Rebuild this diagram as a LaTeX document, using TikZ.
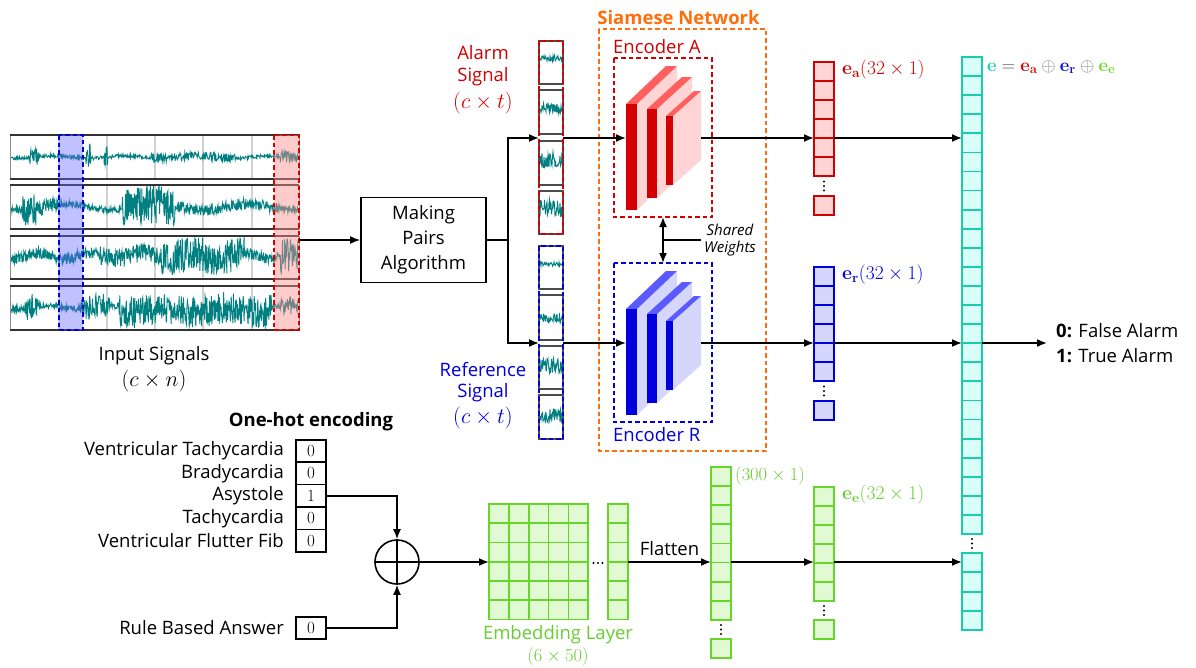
\RequirePackage{fix-cm}
\documentclass[tikz,border=0pt]{standalone}
\usepackage[no-math]{fontspec}
\setmainfont{Open Sans}
\usetikzlibrary{arrows.meta,calc}
\definecolor{rd}{RGB}{210,0,0}
\definecolor{rdl}{RGB}{255,95,95}
\definecolor{rdf}{RGB}{255,212,212}
\definecolor{bl}{RGB}{0,0,220}
\definecolor{bll}{RGB}{90,90,255}
\definecolor{blf}{RGB}{212,214,252}
\definecolor{gr}{RGB}{100,215,40}
\definecolor{grt}{RGB}{105,205,50}
\definecolor{grf}{RGB}{226,250,212}
\definecolor{cy}{RGB}{25,205,170}
\definecolor{cyf}{RGB}{215,255,248}
\definecolor{org}{RGB}{255,110,10}
\definecolor{sigc}{RGB}{0,128,128}
\begin{document}
\begin{tikzpicture}[x=1pt,y=-1pt,
  font=\fontsize{18.5}{22}\selectfont,
  arr/.style={-{Latex[length=10pt,width=8pt]}, line width=1.6pt},
  darr/.style={{Latex[length=10pt,width=8pt]}-{Latex[length=10pt,width=8pt]}, line width=1.6pt},
  ln/.style={line width=1.6pt},
  sig/.style={sigc, line width=0.9pt},
  dsh/.style={dash pattern=on 4.5pt off 3pt, line width=1.5pt},
  cellR/.style={draw=rd, fill=rdf, line width=1.8pt},
  cellB/.style={draw=bl, fill=blf, line width=1.8pt},
  cellG/.style={draw=gr, fill=grf, line width=1.8pt},
  cellC/.style={draw=cy, fill=cyf, line width=1.8pt},
  ohbox/.style={draw, line width=1.6pt, minimum width=30pt, minimum height=22.4pt, inner sep=0pt, font=\fontsize{17}{18}\selectfont},
  lbl/.style={anchor=east, inner sep=0pt},
  mth/.style={font=\fontsize{19.5}{22}\selectfont},
  mbig/.style={font=\fontsize{22}{24}\selectfont}
]
\useasboundingbox (0,0) rectangle (1196,667);
\pgfmathsetseed{11}
% ---------------- input signals
\foreach \ya/\yb in {135/179,185/229,236/279,286/330}{
  \fill[white] (10,\ya) rectangle (299,\yb);
  \foreach \gx in {59,107,155,203,252} \draw[black!18, line width=1.4pt] (\gx,\ya) -- (\gx,\yb);
}
\begin{scope}
\clip (10,135) rectangle (299,179);
\draw[sig] plot[domain=11:298,samples=650] (\x,{157+1.2*sin(5*\x)+(1.8+7*(\x>30)*(\x<38)+14*(\x>86)*(\x<91)+9*(\x>104)*(\x<108)+2.5*(\x>150)*(\x<235)+4*(\x>280))*rand});
\end{scope}
\begin{scope}
\clip (10,185) rectangle (299,229);
\draw[sig] plot[domain=11:298,samples=650] (\x,{207+3*sin(4*\x)+(3+14*(\x>22)*(\x<36)+5*(\x>36)*(\x<60)+17*(\x>122)*(\x<175)+2.5*(\x>175)*(\x<280))*rand});
\end{scope}
\begin{scope}
\clip (10,236) rectangle (299,279);
\draw[sig] plot[domain=11:298,samples=650] (\x,{256+3*sin(7*\x)+(5.5+4*(\x>100)*(\x<160)+12*(\x>160)*(\x<245)+12*(\x>280))*rand});
\end{scope}
\begin{scope}
\clip (10,286) rectangle (299,330);
\draw[sig] plot[domain=11:298,samples=650] (\x,{307+2*sin(6*\x)+3*(\x>118)*(\x<272)+(3+10*(\x>25)*(\x<38)+9*(\x>80)*(\x<110)+13*(\x>118)*(\x<272)+6*(\x>280))*rand});
\end{scope}
\foreach \ya/\yb in {135/179,185/229,236/279,286/330}{
  \draw[black!45, line width=1pt] (10,\ya) rectangle (299,\yb);
  \draw[black!80, line width=1.4pt] (10,\ya) -- (299,\ya) (10,\yb) -- (299,\yb);
}
\fill[blue!60!white, fill opacity=0.4] (59,135) rectangle (83,330);
\draw[bl, dsh] (59,135) rectangle (83,330);
\fill[red!45!white, fill opacity=0.45] (274,135) rectangle (299,330);
\draw[rd, dsh] (274,135) rectangle (299,330);
\node (insig) at (154,356) {Input Signals};
\node[mbig] (incn) at (154,381) {$(c\times n)$};
\coordinate (inR) at (299,240);
% ---------------- making pairs
\node[draw, line width=1.6pt, minimum width=125pt, minimum height=85pt, align=center, inner sep=0pt, font=\fontsize{18.5}{25}\selectfont] (mp) at (423.5,240) {Making\\Pairs\\Algorithm};
\draw[arr] (inR) -- (mp.west);
\coordinate (split) at (508,240);
\coordinate (asIn) at (539,138);
\coordinate (rsIn) at (539,343);
\draw[ln] (mp.east) -- (split);
\draw[arr] (split) |- (asIn);
\draw[arr] (split) |- (rsIn);
% ---------------- alarm / reference strips
\foreach \ya/\yb in {41/84,90/134,141/185,191/234,246/289,295/340,346/389,395/439}{
  \draw[black!70, line width=1.1pt] (539,\ya) rectangle (563,\yb);
}
\foreach \c/\a in {58/3,108/5,160/9,208/9,264/2,318/5,366/8,416/7}{
  \draw[sig] plot[domain=540:562,samples=45] (\x,{\c+\a*rand});
}
\draw[rd, dsh] (539,41) rectangle (563,234);
\draw[bl, dsh] (539,246) rectangle (563,439);
\node[text=rd] (al1) at (483,53) {Alarm};
\node[text=rd] (al2) at (483,77) {Signal};
\node[text=rd, mbig] (al3) at (483,103) {$(c\times t)$};
\node[text=bl] (rf1) at (483,370) {Reference};
\node[text=bl] (rf2) at (483,393) {Signal};
\node[text=bl, mbig] (rf3) at (483,418) {$(c\times t)$};
\coordinate (asOut) at (563,138);
\coordinate (rsOut) at (563,343);
% ---------------- siamese
\draw[org, dsh] (599,29) rectangle (766,451);
\node[text=org, font=\bfseries\fontsize{18.5}{20}\selectfont] (siam) at (678.5,18) {Siamese Network};
\draw[rd, dsh] (614,58) rectangle (712,217);
\draw[bl, dsh] (614,263) rectangle (712,422);
\node[text=rd, anchor=west, inner sep=0pt] (encA) at (613,47) {Encoder A};
\node[text=bl, anchor=west, inner sep=0pt] (encR) at (613,435) {Encoder R};
\foreach \sh/\cf/\ct/\cs in {0/rd/rdl/rdf, 205/bl/bll/blf}{
 \begin{scope}[shift={(0,\sh)}]
  \foreach \xa/\xb/\ya/\yb/\dx/\dy in {626/637/104/210/40/-38, 647/657/109/198/35/-32, 666/673/116/185/28/-25}{
    \fill[\cs] (\xb,\ya) -- ++(\dx,\dy) -- ($(\xb,\yb)+(\dx,\dy)$) -- (\xb,\yb) -- cycle;
    \fill[\ct] (\xa,\ya) -- (\xb,\ya) -- ++(\dx,\dy) -- ($(\xa,\ya)+(\dx,\dy)$) -- cycle;
    \fill[\cf] (\xa,\ya) rectangle (\xb,\yb);
  }
 \end{scope}
}
\coordinate (eAin) at (626,138);
\coordinate (eRin) at (626,343);
\coordinate (eAout) at (701,138);
\coordinate (eRout) at (701,343);
\draw[arr] (asOut) -- (eAin);
\draw[arr] (rsOut) -- (eRin);
\coordinate (swT) at (663,217);
\coordinate (swB) at (663,263);
\coordinate (swM) at (663,240);
\coordinate (swE) at (701,240);
\draw[darr] (swT) -- (swB);
\draw[ln] (swM) -- (swE);
\node[font=\itshape\fontsize{15}{16}\selectfont] (sw1) at (730,230) {Shared};
\node[font=\itshape\fontsize{15}{16}\selectfont] (sw2) at (730,249) {Weights};
% ---------------- ea / er vectors
\foreach \i in {0,...,5} {
  \draw[cellR] (814,{62+19*\i}) rectangle (834,{81+19*\i});
  \draw[cellB] (814,{267+19*\i}) rectangle (834,{286+19*\i});
}
\draw[cellR] (814,196) rectangle (834,215);
\draw[cellB] (814,401) rectangle (834,420);
\foreach \yy in {181.5,186,190.5,386.5,391,395.5} \fill (824,\yy) circle (1.2);
\node[text=rd, anchor=west, inner sep=0pt, mth] (eal) at (842,70) {$\mathbf{e}_{\mathbf{a}}(32\times 1)$};
\node[text=bl, anchor=west, inner sep=0pt, mth] (erl) at (842,275) {$\mathbf{e}_{\mathbf{r}}(32\times 1)$};
\coordinate (eaIn) at (814,138);
\coordinate (erIn) at (814,343);
\coordinate (eaOut) at (834,138);
\coordinate (erOut) at (834,343);
\draw[arr] (eAout) -- (eaIn);
\draw[arr] (eRout) -- (erIn);
% ---------------- cyan vector
\foreach \i in {0,...,24} \draw[cellC] (962,{57+19.08*\i}) rectangle (982,{76.08+19.08*\i});
\foreach \i in {0,...,3} \draw[cellC] (962,{553+19.3*\i}) rectangle (982,{572.3+19.3*\i});
\foreach \yy in {539,543.5,548} \fill (972,\yy) circle (1.2);
\node[anchor=west, inner sep=0pt, font=\fontsize{18.5}{20}\selectfont] (eq) at (987,67) {$\color{cy}\mathbf{e}\color{black!70}=\color{rd}\mathbf{e}_{\mathbf{a}}\color{black!50}\oplus\color{bl}\mathbf{e}_{\mathbf{r}}\color{black!50}\oplus\color{gr}\mathbf{e}_{\mathbf{e}}$};
\coordinate (cyA) at (962,138);
\coordinate (cyR) at (962,343);
\coordinate (cyE) at (962,562);
\coordinate (cyOut) at (982,343);
\coordinate (res) at (1047,343);
\draw[arr] (eaOut) -- (cyA);
\draw[arr] (erOut) -- (cyR);
\draw[arr] (cyOut) -- (res);
\node[anchor=west, inner sep=0pt] (r0) at (1056,331) {\textbf{0:} False Alarm};
\node[anchor=west, inner sep=0pt] (r1) at (1056,356) {\textbf{1:} True Alarm};
% ---------------- one-hot
\node[font=\bfseries\fontsize{18.5}{20}\selectfont] (ohT) at (311,422) {One-hot encoding};
\node[ohbox] (oh1) at (311,451) {$0$};
\node[ohbox] (oh2) at (311,473.4) {$0$};
\node[ohbox] (oh3) at (311,495.8) {$1$};
\node[ohbox] (oh4) at (311,518.2) {$0$};
\node[ohbox] (oh5) at (311,540.6) {$0$};
\node[ohbox] (rb) at (311,628) {$0$};
\node[lbl] (l1) at (284,451) {Ventricular Tachycardia};
\node[lbl] (l2) at (284,473.4) {Bradycardia};
\node[lbl] (l3) at (284,495.8) {Asystole};
\node[lbl] (l4) at (284,518.2) {Tachycardia};
\node[lbl] (l5) at (284,540.6) {Ventricular Flutter Fib};
\node[lbl] (l6) at (284,628) {Rule Based Answer};
\node[circle, draw, line width=1.6pt, minimum size=44pt, inner sep=0pt] (sum) at (397,562) {};
\draw[ln] (sum.north) -- (sum.south) (sum.west) -- (sum.east);
\draw[arr] (oh3.east) -| (sum.north);
\draw[arr] (rb.east) -| (sum.south);
% ---------------- embedding
\foreach \c in {0,...,4} \foreach \r in {0,...,5}
  \draw[cellG] ({489+19.86*\c},{504+19.25*\r}) rectangle ({508.86+19.86*\c},{523.25+19.25*\r});
\foreach \r in {0,...,5} \draw[cellG] (608,{504+19.25*\r}) rectangle (628,{523.25+19.25*\r});
\foreach \xx in {593.5,598,602.5} \fill (\xx,563) circle (1.2);
\node[text=grt] (embl) at (558,635) {Embedding Layer};
\node[text=grt, font=\fontsize{18.5}{20}\selectfont] (embs) at (558,657) {$(6\times 50)$};
\coordinate (embIn) at (489,562);
\coordinate (embOut) at (628,562);
\draw[arr] (sum.east) -- (embIn);
% 300 vector
\foreach \i in {0,...,7} \draw[cellG] (711,{467+19.1*\i}) rectangle (731,{486.1+19.1*\i});
\draw[cellG] (711,639) rectangle (731,658);
\foreach \yy in {625,629.5,634} \fill (721,\yy) circle (1.2);
\node[text=grt, anchor=west, inner sep=0pt, font=\fontsize{18.5}{20}\selectfont] (l300) at (735,476) {$(300\times 1)$};
% ee vector
\foreach \i in {0,...,5} \draw[cellG] (814,{487+19*\i}) rectangle (834,{506+19*\i});
\draw[cellG] (814,620) rectangle (834,639);
\foreach \yy in {606,610.5,615} \fill (824,\yy) circle (1.2);
\node[text=grt, anchor=west, inner sep=0pt, mth] (eel) at (842,495) {$\mathbf{e}_{\mathbf{e}}(32\times 1)$};
\coordinate (fIn) at (711,562);
\coordinate (fOut) at (731,562);
\coordinate (eeIn) at (814,562);
\coordinate (eeOut) at (834,562);
\draw[arr] (embOut) -- node[above=2pt] (flat) {Flatten} (fIn);
\draw[arr] (fOut) -- (eeIn);
\draw[arr] (eeOut) -- (cyE);
\end{tikzpicture}
\end{document}
